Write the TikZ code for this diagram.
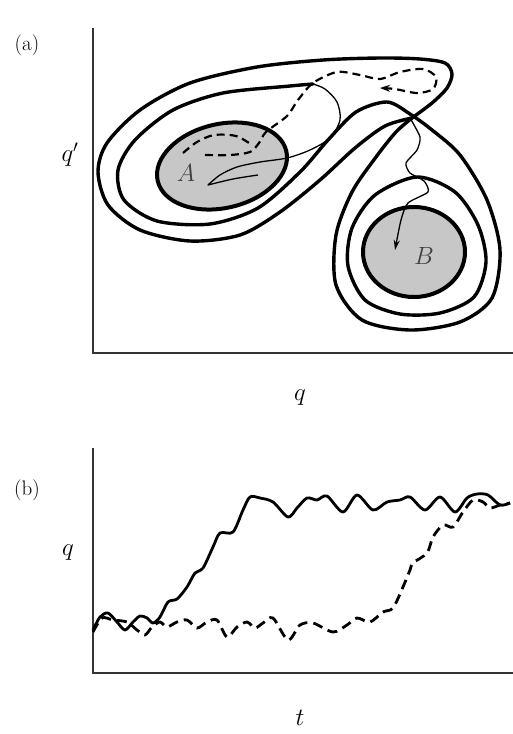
\documentclass[tikz,border=0pt]{standalone}
\usetikzlibrary{arrows.meta}
\begin{document}
\begin{tikzpicture}[x=1pt,y=-1pt,
  thickc/.style={line width=3.4pt, line join=round, line cap=round},
  basin/.style={line width=4pt, fill=black!22},
  thinc/.style={line width=1.3pt, line join=round},
  dashc/.style={line width=2.2pt, dash pattern=on 8pt off 5pt},
  dashb/.style={line width=2.8pt, dash pattern=on 10pt off 6pt},
  solidb/.style={line width=2.8pt, line join=round},
  axis/.style={line width=1.2pt, black!80},
  lbl/.style={font=\fontsize{24}{28}\selectfont},
  plbl/.style={font=\fontsize{21}{25}\selectfont},
  stlbl/.style={font=\fontsize{25}{29}\selectfont, text=black!75}]
\useasboundingbox (0,0) rectangle (513,734);

% ---------- panel (a) ----------
\coordinate (atop) at (93,28);
\coordinate (aorig) at (93,353);
\coordinate (aright) at (513,353);
\draw[axis] (atop) -- (aorig) -- (aright);
\node[plbl] (pa) at (27,45) {(a)};
\node[lbl] (qp) at (70,155) {$q'$};
\node[lbl] (qa) at (300,398) {$q$};

% basins
\coordinate (ca) at (222,166);
\coordinate (cb) at (414,252);
\draw[basin, rotate around={13:(ca)}] (ca) ellipse [x radius=66, y radius=42];
\draw[basin] (cb) ellipse [x radius=51, y radius=45];
\node[stlbl] (A) at (186,173) {$A$};
\node[stlbl] (B) at (424,256) {$B$};

% contour around B
\draw[thickc] plot[smooth cycle] coordinates {(417,177) (455,192) (478,225) (486,262) (474,297) (440,313) (400,314) (365,300) (348,266) (352,228) (375,195)};

% outer contour around A
\draw[thickc] plot[smooth] coordinates {(412,118) (432,103) (447,88) (452,74) (445,63) (420,59) (380,58) (323,60) (257,67) (190,83) (140,110) (107,143) (98,172) (108,205) (140,230) (190,241) (240,235) (280,212) (320,180) (355,148) (385,126) (412,118)};

% second contour around A continuing round B
\draw[thickc] plot[smooth] coordinates {(313,84) (290,86) (223,93) (173,110) (135,140) (118,170) (124,200) (157,221) (210,224) (258,208) (300,172) (328,140) (356,112) (387,102) (410,114) (432,130) (460,155) (487,200) (500,250) (492,298) (460,322) (410,330) (362,320) (336,285) (336,235) (352,192) (376,157) (396,132) (412,118)};

% thin trajectory: hook in A, loop, zigzag into B
\draw[thinc] plot[smooth] coordinates {(258,175) (233,179) (208,185)}
  -- plot[smooth] coordinates {(208,185) (220,175) (237,167) (260,162) (287,158) (310,150) (330,138) (340,120) (337,102) (325,89) (313,84)};
\draw[thinc, -{Stealth[length=10pt,width=6pt]}] plot[smooth, tension=0.4] coordinates {(410,118) (420,137) (417,150) (406,163) (410,173) (424,181) (428,192) (408,203) (401,220) (395,250)};

% dashed trajectory
\draw[dashc] plot[smooth] coordinates {(183,153) (197,142) (214,135) (236,136) (252,145)};
\draw[dashc, -{Stealth[length=10pt,width=7pt]}] plot[smooth] coordinates {(205,155) (230,155) (250,152) (259,143) (266,132) (287,116) (298,100) (313,83) (337,72) (360,75) (380,79) (400,72) (423,69) (436,77) (433,89) (417,93) (395,89) (380,88)};

% ---------- panel (b) ----------
\coordinate (btop) at (93,448);
\coordinate (borig) at (93,673);
\coordinate (bright) at (513,673);
\draw[axis] (btop) -- (borig) -- (bright);
\node[plbl] (pb) at (27,490) {(b)};
\node[lbl] (qb) at (68,553) {$q$};
\node[lbl] (tb) at (300,718) {$t$};

\draw[solidb] plot[smooth] coordinates {(93,630) (100,617) (108,613) (117,622) (125,630) (133,622) (140,616) (147,618) (153,623) (160,617) (168,602) (177,599) (187,587) (195,573) (203,568) (213,547) (220,533) (233,532) (243,510) (250,497) (260,498) (273,502) (288,517) (297,508) (307,498) (317,500) (327,496) (343,512) (357,495) (373,510) (387,502) (400,500) (410,497) (425,510) (440,497) (455,512) (467,498) (477,494) (488,495) (500,505) (510,503)};

\draw[dashb] plot[smooth] coordinates {(93,632) (102,618) (113,620) (127,622) (137,630) (145,635) (152,627) (160,622) (167,627) (177,622) (187,620) (197,628) (207,622) (217,620) (227,637) (237,627) (247,622) (255,628) (263,623) (273,618) (288,640) (300,625) (313,623) (333,632) (347,625) (357,618) (370,622) (383,612) (393,608) (403,587) (410,570) (413,563) (427,553) (433,537) (443,525) (453,527) (463,512) (473,500) (483,502) (490,508) (500,505) (510,503)};
\end{tikzpicture}
\end{document}
